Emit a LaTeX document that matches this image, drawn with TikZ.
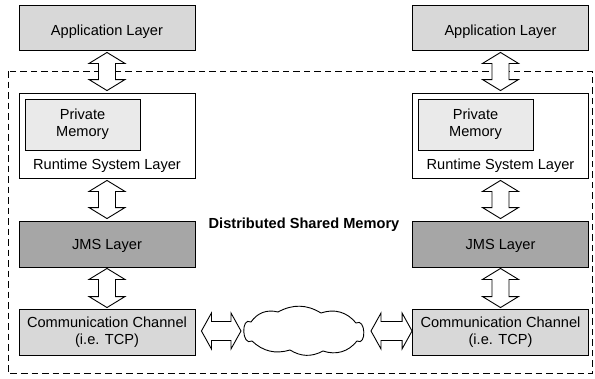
\documentclass[tikz,border=0pt]{standalone}
\usepackage{fontspec}
\setmainfont{Liberation Sans}
\usetikzlibrary{calc}
\definecolor{lightbox}{HTML}{D8D8D8}
\definecolor{darkbox}{HTML}{A6A6A6}
\definecolor{membox}{HTML}{EAEAEA}
\newcommand\VDArrow[2]{%
  \draw[arrowshape] let \p1=#1, \p2=#2 in
   (\x1,\y1) -- (\x1+18pt,\y1-11pt) -- (\x1+8.5pt,\y1-11pt) -- (\x1+8.5pt,\y2+11pt)
   -- (\x1+18pt,\y2+11pt) -- (\x1,\y2) -- (\x1-18pt,\y2+11pt) -- (\x1-8.5pt,\y2+11pt)
   -- (\x1-8.5pt,\y1-11pt) -- (\x1-18pt,\y1-11pt) -- cycle;}
\newcommand\HDArrow[2]{%
  \draw[arrowshape] let \p1=#1, \p2=#2 in
   (\x1,\y1) -- (\x1+10pt,\y1+18pt) -- (\x1+10pt,\y1+9.5pt) -- (\x2-10pt,\y1+9.5pt)
   -- (\x2-10pt,\y1+18pt) -- (\x2,\y1) -- (\x2-10pt,\y1-18pt) -- (\x2-10pt,\y1-9.5pt)
   -- (\x1+10pt,\y1-9.5pt) -- (\x1+10pt,\y1-18pt) -- cycle;}
\begin{document}
\begin{tikzpicture}[x=1pt,y=-1pt,
  txt/.style={font=\fontsize{14.6}{17}\selectfont},
  layerbox/.style={draw=black, line width=0.9pt, minimum width=176pt, minimum height=46pt,
    inner sep=0pt, align=center, txt},
  onebox/.style={layerbox, text height=10.5pt, text depth=0pt},
  appbox/.style={layerbox, text height=15pt, text depth=0pt, minimum height=45pt, fill=lightbox},
  arrowshape/.style={draw=black, line width=0.9pt, fill=white, line join=miter},
  dsm/.style={draw=black, line width=0.9pt, dash pattern=on 6.5pt off 4pt}
]
\useasboundingbox (0,0) rectangle (595,378);
% distributed shared memory region
\draw[dsm] (8,71) rectangle (592,373);
\node[txt, font=\fontsize{14.6}{17}\selectfont\bfseries, anchor=base] (dsmlabel) at (304,228.5) {Distributed Shared Memory};

% left column
\node[appbox] (app1) at (107,27.5) {Application Layer};
\node[layerbox, fill=white, minimum height=85pt] (rt1) at (107,135.5) {};
\node[layerbox, fill=membox, minimum width=115pt, minimum height=51pt] (pm1) at (82.5,124.5) {Private\\Memory};
\node[txt, anchor=base] (rtl1) at (107,169) {Runtime System Layer};
\node[onebox, fill=darkbox] (jms1) at (107,244) {JMS Layer};
\node[layerbox, fill=lightbox] (cc1) at (107,332) {Communication Channel\\(i.e. TCP)};

% right column
\node[appbox] (app2) at (500.5,27.5) {Application Layer};
\node[layerbox, fill=white, minimum height=85pt] (rt2) at (500.5,135.5) {};
\node[layerbox, fill=membox, minimum width=115pt, minimum height=51pt] (pm2) at (475.5,124.5) {Private\\Memory};
\node[txt, anchor=base] (rtl2) at (500.5,169) {Runtime System Layer};
\node[onebox, fill=darkbox] (jms2) at (500.5,244) {JMS Layer};
\node[layerbox, fill=lightbox] (cc2) at (500.5,332) {Communication Channel\\(i.e. TCP)};

% vertical double arrows
\VDArrow{($(app1.south)+(0,2)$)}{($(rt1.north)+(0,-2)$)}
\VDArrow{($(rt1.south)+(0,2)$)}{($(jms1.north)+(0,-2)$)}
\VDArrow{($(jms1.south)+(0,1)$)}{($(cc1.north)+(0,-1)$)}
\VDArrow{($(app2.south)+(0,2)$)}{($(rt2.north)+(0,-2)$)}
\VDArrow{($(rt2.south)+(0,2)$)}{($(jms2.north)+(0,-2)$)}
\VDArrow{($(jms2.south)+(0,1)$)}{($(cc2.north)+(0,-1)$)}

% cloud (network)
\coordinate (cloudW) at (245,331);
\coordinate (cloudE) at (364,331);
\draw[line width=0.9pt, fill=white] (251,322) to[bend left=35] (278,312) to[bend left=30] (321,313)
  to[bend left=35] (356,323) to[out=30, in=-30, looseness=1.6] (357,341) to[bend left=35] (323,351)
  to[bend left=30] (290,350) to[bend left=30] (252,341) to[out=-150, in=150, looseness=1.6] (251,322) -- cycle;

% horizontal double arrows
\HDArrow{($(cc1.east)+(6,-1)$)}{($(cloudW)+(-4,0)$)}
\HDArrow{($(cloudE)+(7,0)$)}{($(cc2.west)+(0,-1)$)}
\end{tikzpicture}
\end{document}
